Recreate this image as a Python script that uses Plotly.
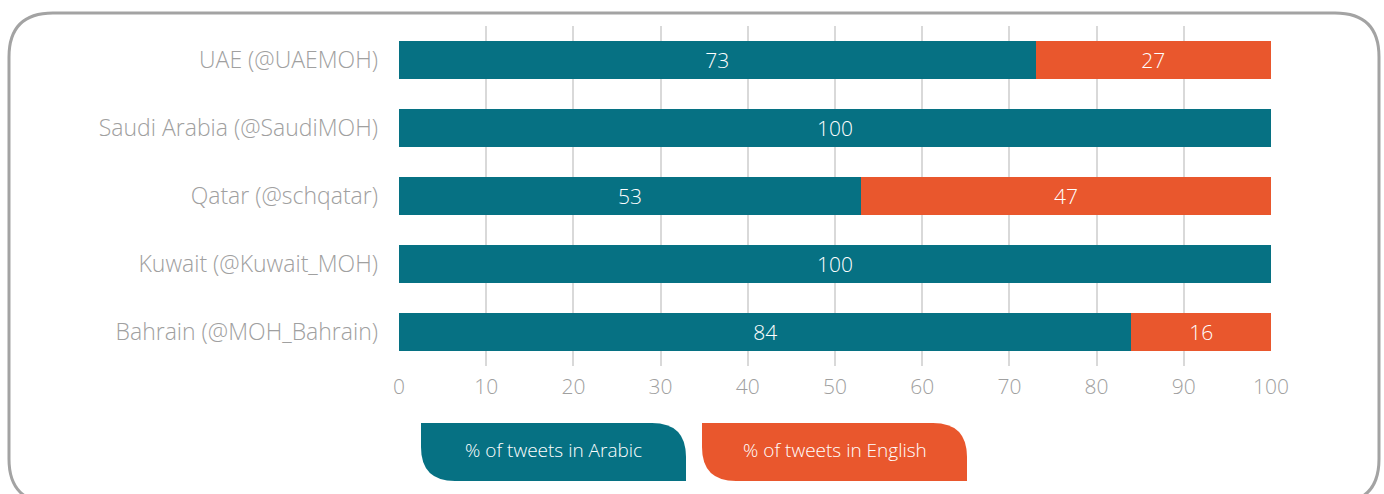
import plotly.graph_objects as go

# Data
accounts = ["UAE (@UAEMOH)", "Saudi Arabia (@SaudiMOH)", "Qatar (@schqatar)",
            "Kuwait (@Kuwait_MOH)", "Bahrain (@MOH_Bahrain)"]
arabic = [73, 100, 53, 100, 84]
english = [27, 0, 47, 0, 16]
series_names = ["% of tweets in Arabic", "% of tweets in English"]
x_ticks = [0, 10, 20, 30, 40, 50, 60, 70, 80, 90, 100]

TEAL = "#067183"
ORANGE = "#E9572D"
GREY_TXT = "#a0a0a0"
FONT = "Open Sans"
WEIGHT = 300

W, H = 1384, 494
ML, MR, MT, MB = 399, 113, 26, 128
PW, PH = W - ML - MR, H - MT - MB


def px(x):
    return (x - ML) / PW


def py(y):
    return (H - MB - y) / PH


fig = go.Figure()
for vals, name, col in [(arabic, series_names[0], TEAL), (english, series_names[1], ORANGE)]:
    fig.add_trace(go.Bar(
        y=accounts, x=vals, name=name, orientation="h",
        marker=dict(color=col, line=dict(width=0)),
        text=[str(v) if v else "" for v in vals],
        textposition="inside", insidetextanchor="middle", textangle=0,
        textfont=dict(family=FONT, size=21, color="white", weight=WEIGHT),
        width=0.56, hoverinfo="x+y",
    ))


def to_path(pts):
    s = ""
    for cmd, ps in pts:
        s += cmd + " " + " ".join(f"{px(a):.5f},{py(b):.5f}" for a, b in ps) + " "
    return s + "Z"


def rounded_rect(x0, y0, x1, y1, r):
    # frame around the chart, pixel space converted to paper coordinates
    return to_path([
        ("M", [(x0 + r, y0)]),
        ("L", [(x1 - r, y0)]),
        ("Q", [(x1, y0), (x1, y0 + r)]),
        ("L", [(x1, y1 - r)]),
        ("Q", [(x1, y1), (x1 - r, y1)]),
        ("L", [(x0 + r, y1)]),
        ("Q", [(x0, y1), (x0, y1 - r)]),
        ("L", [(x0, y0 + r)]),
        ("Q", [(x0, y0), (x0 + r, y0)]),
    ])


def tab(x0, y0, x1, y1, r):
    # legend tab: rounded top-right and bottom-left corners
    return to_path([
        ("M", [(x0, y0)]),
        ("L", [(x1 - r, y0)]),
        ("Q", [(x1, y0), (x1, y0 + r)]),
        ("L", [(x1, y1)]),
        ("L", [(x0 + r, y1)]),
        ("Q", [(x0, y1), (x0, y1 - r)]),
        ("L", [(x0, y0)]),
    ])


shapes = [dict(type="path", xref="paper", yref="paper",
               path=rounded_rect(9, 13, 1379, 503, 44),
               line=dict(color="#a3a3a3", width=3), fillcolor="rgba(0,0,0,0)",
               layer="above")]

annotations = []
for (x0, x1), name, col in [((421, 686), series_names[0], TEAL),
                            ((702, 967), series_names[1], ORANGE)]:
    shapes.append(dict(type="path", xref="paper", yref="paper",
                       path=tab(x0, 423, x1, 481, 34),
                       line=dict(width=0), fillcolor=col, layer="above"))
    annotations.append(dict(x=px((x0 + x1) / 2), y=py(450), xref="paper", yref="paper",
                            xanchor="center", yanchor="middle",
                            text=name, showarrow=False,
                            font=dict(family=FONT, size=19, color="white", weight=WEIGHT)))

fig.update_layout(
    width=W, height=H,
    margin=dict(l=ML, r=MR, t=MT, b=MB),
    barmode="stack", bargap=0.44,
    showlegend=False,
    paper_bgcolor="white", plot_bgcolor="white",
    font=dict(family=FONT, color=GREY_TXT),
    xaxis=dict(range=[0, 100], tickvals=x_ticks, showgrid=True,
               gridcolor="#d9d9d9", gridwidth=2, zeroline=False,
               showline=False,
               tickfont=dict(family=FONT, size=21, color=GREY_TXT, weight=WEIGHT),
               ticks="", ticklabelstandoff=6),
    yaxis=dict(categoryorder="array", categoryarray=accounts, autorange="reversed",
               range=[4.5, -0.5], showgrid=False, zeroline=False, showline=False,
               ticks="", ticklabelstandoff=20,
               tickfont=dict(family=FONT, size=23, color=GREY_TXT, weight=WEIGHT)),
    shapes=shapes,
    annotations=annotations,
)

fig.write_html("out.html")
